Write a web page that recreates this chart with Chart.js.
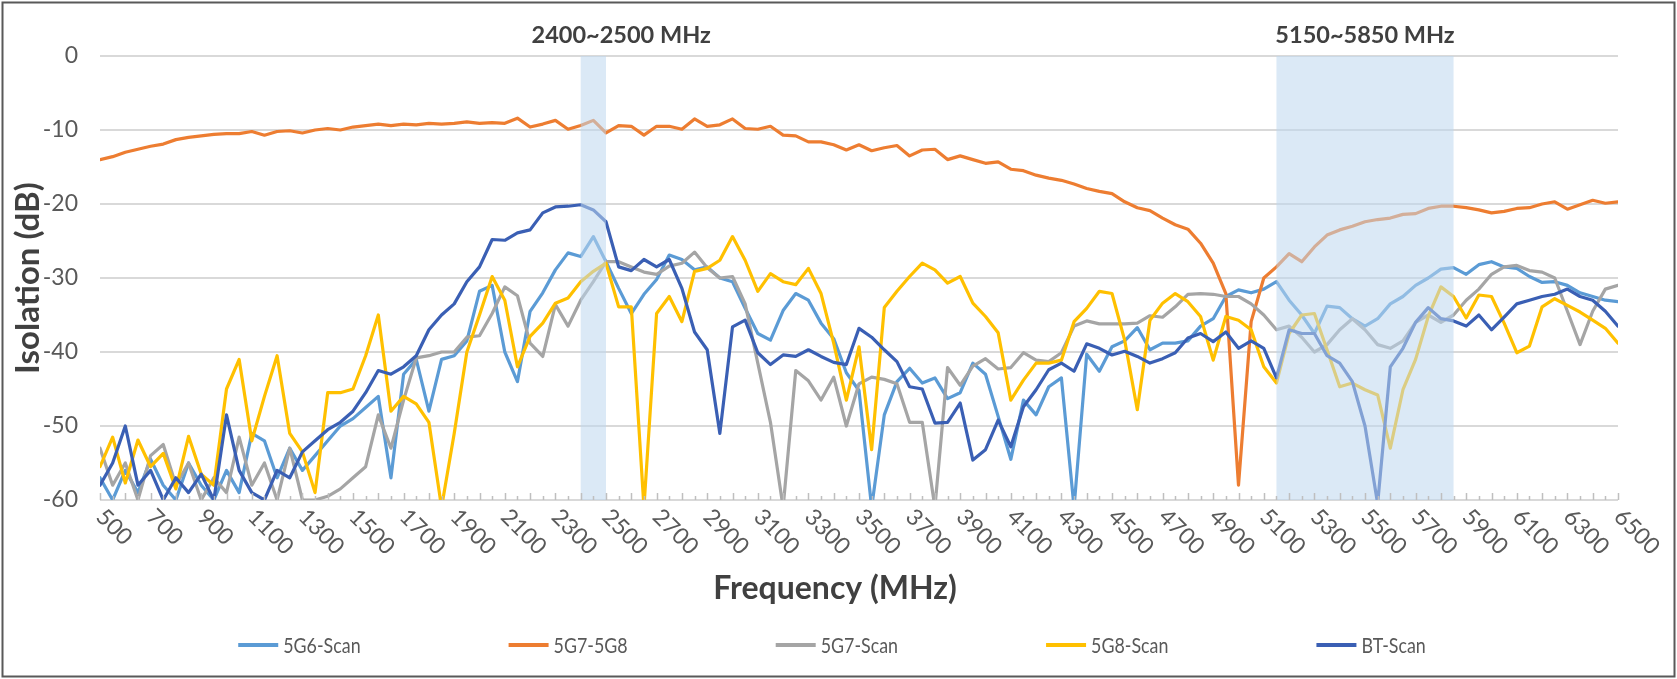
<!DOCTYPE html>
<html>
<head>
<meta charset="utf-8">
<script src="https://cdn.jsdelivr.net/npm/chart.js@4.4.1/dist/chart.umd.min.js"></script>
<style>
  html, body { margin: 0; padding: 0; background: #fff; }
</style>
</head>
<body>
<canvas id="isoChart" width="1677" height="679"></canvas>
<script>
// frequency points (MHz)
const freq = [
  500, 550, 600, 650, 700, 750, 800, 850, 900, 950,
  1000, 1050, 1100, 1150, 1200, 1250, 1300, 1350, 1400, 1450,
  1500, 1550, 1600, 1650, 1700, 1750, 1800, 1850, 1900, 1950,
  2000, 2050, 2100, 2150, 2200, 2250, 2300, 2350, 2400, 2450,
  2500, 2550, 2600, 2650, 2700, 2750, 2800, 2850, 2900, 2950,
  3000, 3050, 3100, 3150, 3200, 3250, 3300, 3350, 3400, 3450,
  3500, 3550, 3600, 3650, 3700, 3750, 3800, 3850, 3900, 3950,
  4000, 4050, 4100, 4150, 4200, 4250, 4300, 4350, 4400, 4450,
  4500, 4550, 4600, 4650, 4700, 4750, 4800, 4850, 4900, 4950,
  5000, 5050, 5100, 5150, 5200, 5250, 5300, 5350, 5400, 5450,
  5500, 5550, 5600, 5650, 5700, 5750, 5800, 5850, 5900, 5950,
  6000, 6050, 6100, 6150, 6200, 6250, 6300, 6350, 6400, 6450, 6500
];

// isolation (dB)
const scan5G6 = [
  -57, -60, -56, -59, -54.5, -58, -60, -55, -58, -60,
  -56, -59, -51, -52, -57, -53, -56, -54, -52, -50,
  -49, -47.5, -46, -57, -43, -41, -48, -41, -40.5, -38.5,
  -31.8, -31, -40, -44, -34.5, -32, -28.9, -26.6, -27.1, -24.4,
  -27.8, -31.4, -34.8, -32.2, -30.2, -26.9, -27.5, -28.9, -28.5, -30,
  -30.5, -34.1, -37.5, -38.4, -34.4, -32.1, -33, -36.1, -38.2, -42.8,
  -45.2, -61, -48.5, -44, -42.2, -44.2, -43.5, -46.3, -45.5, -41.5,
  -43, -48.7, -54.5, -46.5, -48.5, -44.7, -43.5, -61, -40.3, -42.6,
  -39.3, -38.5, -36.7, -39.7, -38.8, -38.8, -38.5, -36.5, -35.5, -32.5,
  -31.6, -32, -31.5, -30.5, -33, -35, -37.5, -33.8, -34, -35.5,
  -36.5, -35.5, -33.5, -32.5, -31, -30, -28.8, -28.6, -29.5, -28.2,
  -27.8, -28.5, -28.7, -29.8, -30.6, -30.5, -31, -32, -32.5, -33, -33.2
];
const iso5G7to5G8 = [
  -14.0, -13.6, -13.0, -12.6, -12.2, -11.9, -11.3, -11.0, -10.8, -10.6,
  -10.5, -10.5, -10.2, -10.7, -10.2, -10.1, -10.4, -10.0, -9.8, -10.0,
  -9.6, -9.4, -9.2, -9.4, -9.2, -9.3, -9.1, -9.2, -9.1, -8.9,
  -9.1, -9.0, -9.1, -8.4, -9.6, -9.2, -8.7, -9.9, -9.4, -8.7,
  -10.4, -9.4, -9.5, -10.7, -9.5, -9.5, -9.9, -8.5, -9.5, -9.3,
  -8.5, -9.8, -9.9, -9.5, -10.7, -10.8, -11.6, -11.6, -12.0, -12.7,
  -12.0, -12.8, -12.4, -12.1, -13.5, -12.7, -12.6, -14.0, -13.5, -14.0,
  -14.5, -14.3, -15.3, -15.5, -16.1, -16.5, -16.8, -17.3, -17.9, -18.3,
  -18.6, -19.7, -20.5, -20.9, -21.9, -22.8, -23.4, -25.3, -28.0, -32.1,
  -58.0, -35.9, -30.0, -28.5, -26.7, -27.8, -25.8, -24.2, -23.5, -23.0,
  -22.4, -22.1, -21.9, -21.4, -21.3, -20.6, -20.3, -20.3, -20.5, -20.8,
  -21.2, -21.0, -20.6, -20.5, -20.0, -19.7, -20.7, -20.1, -19.5, -19.9, -19.7
];
const scan5G7 = [
  -53, -58, -55, -60, -54, -52.5, -58, -55, -60, -57,
  -59, -51.5, -58, -55, -60, -53, -60, -60, -59.5, -58.5,
  -57, -55.5, -48.5, -53, -46.5, -40.8, -40.5, -40, -40, -38,
  -37.8, -34.8, -31.2, -32.4, -38.8, -40.6, -33.6, -36.5, -33, -30.5,
  -27.8, -27.8, -28.5, -29.2, -29.5, -28.4, -28, -26.5, -28.6, -30,
  -29.8, -33.5, -41.5, -49.5, -61, -42.5, -43.9, -46.5, -43.4, -50,
  -44.3, -43.4, -43.7, -44.3, -49.5, -49.5, -61, -42.1, -44.5, -41.9,
  -40.9, -42.3, -42.1, -40.1, -41.1, -41.3, -40.1, -36.5, -35.8, -36.2,
  -36.2, -36.2, -36.1, -35.1, -35.3, -33.9, -32.2, -32.1, -32.2, -32.5,
  -32.5, -33.5, -35, -37, -36.5, -38, -40, -39, -37, -35.5,
  -37, -39, -39.5, -38.5, -36, -35, -36, -35, -33, -31.5,
  -29.5, -28.5, -28.3, -29, -29.2, -30, -34.5, -39, -34.5, -31.5, -31
];
const scan5G8 = [
  -55.5, -51.5, -57.7, -51.9, -55.5, -53.7, -58.5, -51.4, -56.5, -58,
  -45, -41, -52, -46, -40.5, -51, -53.5, -59, -45.5, -45.5,
  -45, -40.5, -35, -48, -46, -47, -49.5, -61, -51, -40,
  -35, -29.8, -33, -42, -37.9, -36.1, -33.4, -32.7, -30.5, -29.1,
  -28, -33.9, -33.9, -61, -34.8, -32.5, -35.9, -29.1, -28.7, -27.6,
  -24.4, -27.6, -31.8, -29.4, -30.5, -30.9, -28.7, -32.1, -38.8, -46.5,
  -39.3, -53.2, -34, -31.8, -29.8, -28, -28.9, -30.7, -29.8, -33.4,
  -35.2, -37.4, -46.5, -43.8, -41.5, -41.5, -41.1, -35.9, -34.1, -31.8,
  -32.1, -38.4, -47.8, -35.7, -33.4, -32.1, -33.2, -35.2, -41.1, -35.2,
  -35.7, -37, -42, -44.2, -37.5, -35, -34.8, -39.7, -44.7, -44.2,
  -45.1, -45.8, -53, -45.1, -41, -35.2, -31.2, -32.5, -35.4, -32.3,
  -32.5, -36.1, -40.1, -39.2, -33.9, -32.8, -33.7, -34.6, -35.7, -36.8, -38.8
];
const scanBT = [
  -58, -55, -50, -58, -56, -60, -57, -59, -56.5, -60,
  -48.5, -56, -59, -60, -56, -57, -53.5, -52, -50.5, -49.5,
  -48, -45.5, -42.5, -43, -42, -40.5, -37, -35, -33.5, -30.5,
  -28.5, -24.8, -24.9, -23.9, -23.5, -21.2, -20.4, -20.3, -20.1, -20.8,
  -22.4, -28.5, -29, -27.5, -28.5, -27.5, -31.4, -37.3, -39.7, -51,
  -36.6, -35.7, -40.1, -41.7, -40.4, -40.6, -39.7, -40.6, -41.4, -41.7,
  -36.8, -38, -39.7, -41.3, -44.7, -45, -49.6, -49.5, -46.9, -54.6,
  -53.2, -49.2, -52.8, -47.4, -45.1, -42.4, -41.5, -42.6, -38.9, -39.5,
  -40.4, -39.9, -40.6, -41.5, -40.9, -40.1, -38.1, -37.5, -38.6, -37.3,
  -39.5, -38.5, -39.5, -43.5, -37, -37.5, -37.5, -40.5, -41.5, -44,
  -50, -60.5, -42, -39.5, -36, -34, -35.5, -35.8, -36.5, -35,
  -37, -35.3, -33.5, -33, -32.5, -32.2, -31.5, -32.5, -33, -34.5, -36.5
];

const seriesNames = ['5G6-Scan', '5G7-5G8', '5G7-Scan', '5G8-Scan', 'BT-Scan'];
const seriesColors = ['#5B9BD5', '#ED7D31', '#A5A5A5', '#FFC000', '#3A5FB4'];

const xTickLabels = [500, 700, 900, 1100, 1300, 1500, 1700, 1900, 2100, 2300, 2500, 2700, 2900, 3100,
  3300, 3500, 3700, 3900, 4100, 4300, 4500, 4700, 4900, 5100, 5300, 5500, 5700, 5900, 6100, 6300, 6500];
const bandRanges = [[2400, 2500], [5150, 5850]];
const bandTitles = ['2400~2500 MHz', '5150~5850 MHz'];
const bandTitleAt = [2560, 5500];

const FONT = 'Lato, "Open Sans", sans-serif';
const TEXT = '#595959';

const excelLook = {
  id: 'excelLook',
  afterDatasetsDraw(chart) {
    const { ctx, chartArea: a, scales: { x } } = chart;
    ctx.save();
    // shaded bands sit on top of the lines
    ctx.fillStyle = 'rgba(189, 215, 238, 0.55)';
    bandRanges.forEach(([lo, hi]) => {
      const x0 = x.getPixelForValue(lo);
      const x1 = x.getPixelForValue(hi);
      ctx.fillRect(x0, a.top, x1 - x0, a.bottom - a.top);
    });
    // small tick marks on the bottom axis
    ctx.strokeStyle = '#BFBFBF';
    ctx.lineWidth = 1.5;
    for (let f = 500; f <= 6500; f += 50) {
      const px = Math.round(x.getPixelForValue(f)) + 0.5;
      const h = (f - 500) % 100 === 0 ? 7 : 4;
      ctx.beginPath();
      ctx.moveTo(px, a.bottom);
      ctx.lineTo(px, a.bottom - h);
      ctx.stroke();
    }
    ctx.restore();
  },
  afterDraw(chart) {
    const { ctx, chartArea: a, scales: { x } } = chart;
    ctx.save();
    // rotated category labels
    ctx.fillStyle = TEXT;
    ctx.font = '23px ' + FONT;
    ctx.textAlign = 'left';
    ctx.textBaseline = 'middle';
    xTickLabels.forEach(v => {
      ctx.save();
      ctx.translate(x.getPixelForValue(v), a.bottom + 13);
      ctx.rotate(Math.PI / 4);
      ctx.fillText(String(v), 0, 0);
      ctx.restore();
    });
    // x axis title (sits a little left of the plot centre, as in the original)
    ctx.fillStyle = '#404040';
    ctx.font = 'bold 32px ' + FONT;
    ctx.textAlign = 'center';
    ctx.fillText('Frequency (MHz)', 835, 589);
    // band captions
    ctx.font = 'bold 23.5px ' + FONT;
    bandTitles.forEach((t, i) => {
      ctx.fillText(t, x.getPixelForValue(bandTitleAt[i]), 35);
    });
    // legend, text slightly condensed like the original face
    const squeeze = 0.85;
    ctx.font = '21px ' + FONT;
    ctx.textAlign = 'left';
    const sample = 40, gapText = 5, gapItem = 148;
    const widths = chart.data.datasets.map(d => sample + gapText + ctx.measureText(d.label).width * squeeze);
    const total = widths.reduce((s, w) => s + w, 0) + gapItem * (widths.length - 1);
    let lx = 832 - total / 2;
    const ly = 645;
    chart.data.datasets.forEach((d, i) => {
      ctx.strokeStyle = d.borderColor;
      ctx.lineWidth = 4;
      ctx.beginPath();
      ctx.moveTo(lx, ly);
      ctx.lineTo(lx + sample, ly);
      ctx.stroke();
      ctx.fillStyle = TEXT;
      ctx.save();
      ctx.translate(lx + sample + gapText, ly + 1);
      ctx.scale(squeeze, 1);
      ctx.fillText(d.label, 0, 0);
      ctx.restore();
      lx += widths[i] + gapItem;
    });
    // outer frame
    ctx.strokeStyle = '#595959';
    ctx.lineWidth = 2;
    ctx.strokeRect(2.5, 2.5, 1672, 674);
    ctx.restore();
  }
};

const seriesData = [scan5G6, iso5G7to5G8, scan5G7, scan5G8, scanBT];

new Chart(document.getElementById('isoChart'), {
  type: 'line',
  data: {
    labels: freq,
    datasets: seriesData.map((vals, i) => ({
      label: seriesNames[i],
      data: vals,
      borderColor: seriesColors[i],
      backgroundColor: seriesColors[i],
      borderWidth: 3.2,
      pointRadius: 0,
      tension: 0,
      borderJoinStyle: 'round',
      borderCapStyle: 'round',
      order: seriesData.length - i
    }))
  },
  options: {
    responsive: false,
    animation: false,
    devicePixelRatio: 1,
    layout: { padding: { top: 56, right: 59, bottom: 0, left: 0 } },
    plugins: { legend: { display: false }, tooltip: { enabled: false } },
    scales: {
      x: {
        type: 'linear', min: 500, max: 6500,
        ticks: { display: false },
        grid: { display: false },
        border: { display: false },
        afterFit(s) { s.height = 179; }
      },
      y: {
        min: -60, max: 0,
        ticks: { stepSize: 10, color: TEXT, font: { family: FONT, size: 23 }, padding: 22 },
        grid: { color: '#D9D9D9', lineWidth: 2, drawTicks: false },
        border: { display: false },
        title: {
          display: true, text: 'Isolation (dB)', color: '#404040',
          font: { family: FONT, size: 33, weight: 'bold' },
          padding: { top: 9, bottom: 0 }
        },
        afterFit(s) { s.width = 100; }
      }
    }
  },
  plugins: [excelLook]
});
</script>
</body>
</html>
